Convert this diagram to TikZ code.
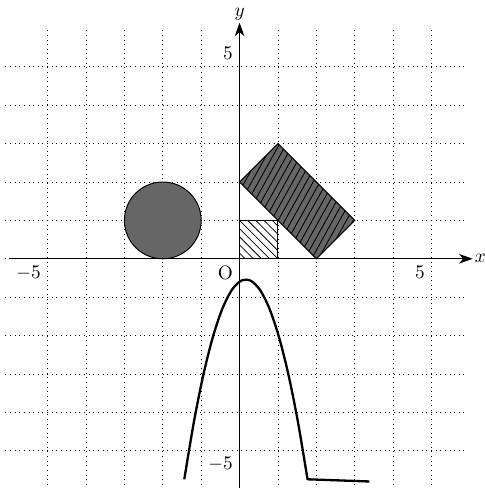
\documentclass[tikz,border=0pt]{standalone}
\usetikzlibrary{patterns,patterns.meta,arrows.meta}
\begin{document}
\begin{tikzpicture}[x=0.7cm,y=0.7cm,
  gridline/.style={dotted,line width=0.4pt},
  axisline/.style={line width=0.6pt,-{Stealth[length=7pt,width=5pt,inset=2pt]}},
  shapeline/.style={line width=0.5pt},
  darkfill/.style={fill=black!60},
  curveline/.style={line width=1.2pt,line join=round}]
\useasboundingbox (-6.24,-5.97) rectangle (6.37,6.74);
% grid
\foreach \yy in {-5,...,5} {\draw[gridline] (-6.1,\yy) -- (5.9,\yy);}
\foreach \xx in {-5,...,5} {\draw[gridline] (\xx,-6) -- (\xx,6);}
% shapes
\draw[shapeline,darkfill] (-2,1) circle (1);
\draw[shapeline,pattern={Lines[angle=-45,distance=3pt,line width=0.4pt]},pattern color=black] (0,0) rectangle (1,1);
\draw[shapeline,preaction={darkfill},pattern={Lines[angle=61,distance=3.1pt,line width=0.45pt]},pattern color=black]
  (0,2) -- (1,3) -- (3,1) -- (2,0) -- cycle;
% axes
\coordinate (xs) at (-6,0);
\coordinate (xe) at (6.07,0);
\coordinate (ys) at (0,-6);
\coordinate (ye) at (0,6.15);
\draw[axisline] (xs) -- (xe);
\draw[axisline] (ys) -- (ye);
\node[anchor=west,inner sep=1pt] (xl) at (xe) {$x$};
\node[anchor=south,inner sep=1pt] (yl) at (ye) {$y$};
\node[below left] (o) at (0,0) {O};
\node[below left] (x5) at (5,0) {$5$};
\node[below left] (xm5) at (-5,0) {$-5$};
\node[above left] (y5) at (0,5) {$5$};
\node[below left] (ym5) at (0,-5) {$-5$};
% curve
\draw[curveline] plot[smooth,domain=-1.44:1.77,samples=14] (\x,{-0.54-2.02*(\x-0.165)*(\x-0.165)}) -- (3.38,-5.80);
\end{tikzpicture}
\end{document}
